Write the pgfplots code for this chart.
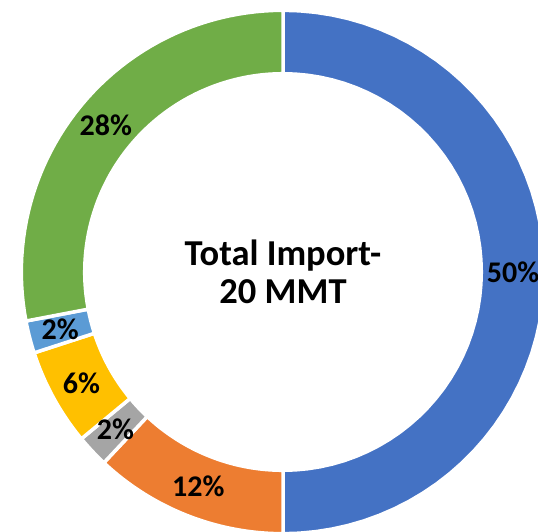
\documentclass[border=0pt]{standalone}
\usepackage{pgfplots}
\pgfplotsset{compat=1.18}
\usepackage{fontspec}
\setmainfont{Carlito}
\definecolor{cblue}{HTML}{4472C4}
\definecolor{corange}{HTML}{ED7D31}
\definecolor{cgray}{HTML}{A5A5A5}
\definecolor{cyellow}{HTML}{FFC000}
\definecolor{clblue}{HTML}{5B9BD5}
\definecolor{cgreen}{HTML}{70AD47}
\def\Ro{261.7}
\def\Ri{198.3}
\def\Rm{230}
% segment: start percent, end percent, colour
\newcommand{\seg}[3]{%
  \addplot[fill=#3, draw=white, line width=3.5pt, line join=miter, samples at={0,...,101}, variable=\t]
  ({((\t<=50) ? \Ro : \Ri)*cos((\t<=50) ? (90-3.6*(#1+(#2-#1)*\t/50)) : (90-3.6*(#2-(#2-#1)*(\t-51)/50)))},
   {((\t<=50) ? \Ro : \Ri)*sin((\t<=50) ? (90-3.6*(#1+(#2-#1)*\t/50)) : (90-3.6*(#2-(#2-#1)*(\t-51)/50)))}) -- cycle;
}
% label: start percent, end percent, text
\newcommand{\lab}[3]{%
  \addplot[draw=none, mark=none, samples at={0}, variable=\t,
    nodes near coords={#3},
    every node near coord/.append style={anchor=center, font=\bfseries\fontsize{30}{32}\selectfont, text=black}]
  ({\Rm*cos(90-3.6*(#1+#2)/2)}, {\Rm*sin(90-3.6*(#1+#2)/2)});
}
\begin{document}
\begin{tikzpicture}
\begin{axis}[name=ax, hide axis, scale only axis, width=538pt, height=531pt,
  xmin=-283, xmax=255, ymin=-259, ymax=272, clip=true]
\seg{0}{50}{cblue}
\seg{50}{62}{corange}
\seg{62}{64}{cgray}
\seg{64}{70}{cyellow}
\seg{70}{72}{clblue}
\seg{72}{100}{cgreen}
\lab{0}{50}{50\%}
\lab{50}{62}{12\%}
\lab{62}{64}{2\%}
\lab{64}{70}{6\%}
\lab{70}{72}{2\%}
\lab{72}{100}{28\%}
\node[align=center, font=\bfseries\fontsize{36.5}{38}\selectfont] at (axis cs:0,0) {Total Import-\\20 MMT};
\end{axis}
\pgfresetboundingbox
\useasboundingbox (ax.south west) rectangle (ax.north east);
\end{tikzpicture}
\end{document}
